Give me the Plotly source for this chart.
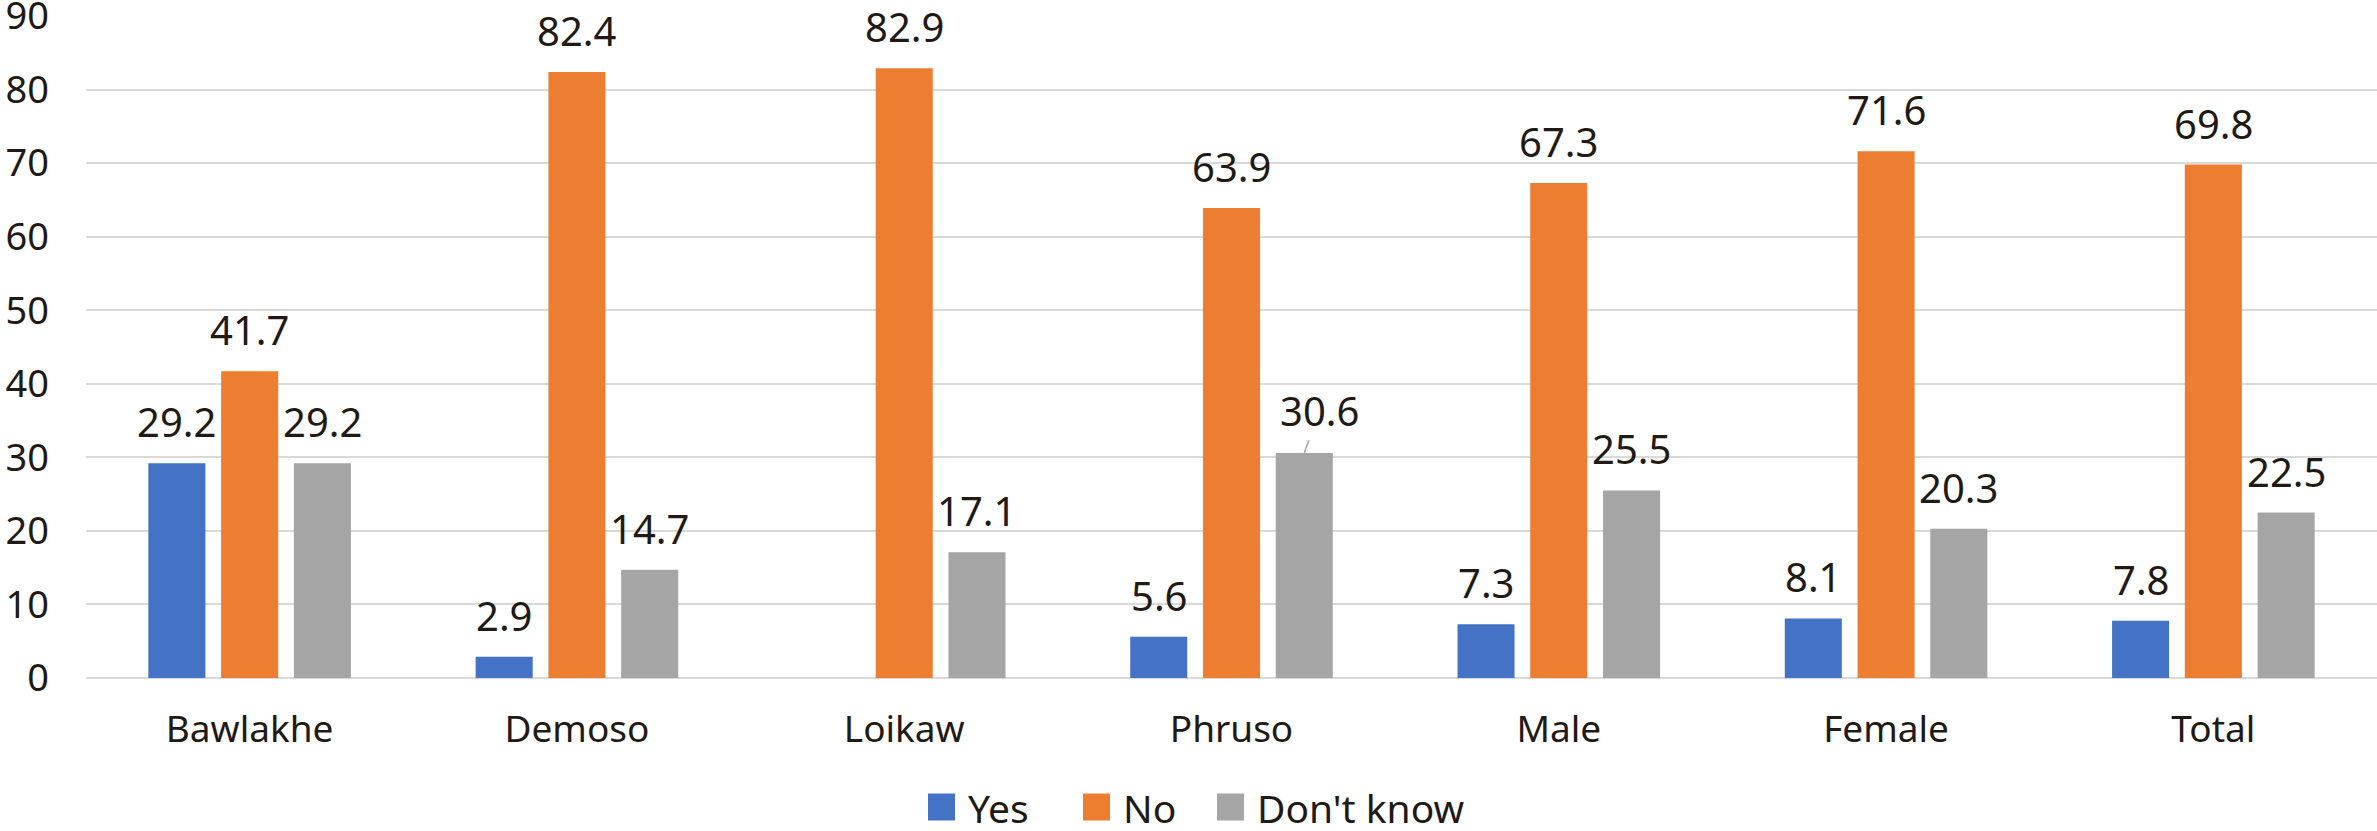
import plotly.graph_objects as go

# Survey responses (%) by township, sex and overall
categories = ["Bawlakhe", "Demoso", "Loikaw", "Phruso", "Male", "Female", "Total"]
yes_vals = [29.2, 2.9, None, 5.6, 7.3, 8.1, 7.8]
no_vals = [41.7, 82.4, 82.9, 63.9, 67.3, 71.6, 69.8]
dont_know_vals = [29.2, 14.7, 17.1, 30.6, 25.5, 20.3, 22.5]
y_ticks = [0, 10, 20, 30, 40, 50, 60, 70, 80, 90]

series = [
    ("Yes", yes_vals, "#4472C4"),
    ("No", no_vals, "#ED7D31"),
    ("Don't know", dont_know_vals, "#A5A5A5"),
]

TEXT = "#211A14"
FONT = "Noto Sans"
BARGAP = 0.333
BARGROUPGAP = 0.216

W, H = 2377, 831
ML, MR, MT, MB = 86, 0, 16, 153
PW, PH = W - ML - MR, H - MT - MB


def px_to_paper(px, py):
    """Convert page pixels to paper coordinates of the plot area."""
    return (px - ML) / PW, (H - MB - py) / PH


xs = list(range(len(categories)))
fig = go.Figure()
for name, vals, color in series:
    fig.add_trace(go.Bar(
        x=xs, y=vals, name=name, showlegend=False,
        marker=dict(color=color, line=dict(width=0)),
    ))

# value labels above each bar, placed at the centre of each bar slot
slot = (1 - BARGAP) / len(series)
annotations = []
for k, (name, vals, color) in enumerate(series):
    offset = (k - (len(series) - 1) / 2) * slot
    for i, v in enumerate(vals):
        if v is None:
            continue
        xpos = i + offset
        if name == "Don't know" and categories[i] == "Phruso":
            annotations.append(dict(
                x=xpos, y=v, xref="x", yref="y", text=f"{v:.1f}",
                showarrow=True, arrowhead=0, arrowwidth=1.5, arrowcolor="#A5A5A5",
                ax=15, ay=-42, standoff=0,
                font=dict(family=FONT, size=40, color=TEXT),
            ))
        else:
            annotations.append(dict(
                x=xpos, y=v, xref="x", yref="y", text=f"{v:.1f}",
                showarrow=False, yanchor="bottom", xanchor="center", yshift=12,
                font=dict(family=FONT, size=40, color=TEXT),
            ))

# legend row below the axis: coloured square followed by its label
shapes = []
legend_left = [928, 1083, 1217]
SQ = 27
LEG_CY = 807
for (name, vals, color), left in zip(series, legend_left):
    x0, y0 = px_to_paper(left, LEG_CY + SQ / 2)
    x1, y1 = px_to_paper(left + SQ, LEG_CY - SQ / 2)
    shapes.append(dict(type="rect", xref="paper", yref="paper",
                       x0=x0, y0=y0, x1=x1, y1=y1,
                       fillcolor=color, line=dict(width=0)))
    tx, ty = px_to_paper(left + SQ + 11, LEG_CY)
    annotations.append(dict(
        x=tx, y=ty, xref="paper", yref="paper", text=name,
        showarrow=False, xanchor="left", yanchor="middle",
        font=dict(family=FONT, size=39, color=TEXT),
    ))

fig.update_layout(
    width=W, height=H,
    margin=dict(l=ML, r=MR, t=MT, b=MB),
    paper_bgcolor="white", plot_bgcolor="white",
    barmode="group", bargap=BARGAP, bargroupgap=BARGROUPGAP,
    font=dict(family=FONT, color=TEXT),
    annotations=annotations,
    shapes=shapes,
    showlegend=False,
)
fig.update_xaxes(
    range=[-0.5, len(categories) - 0.5],
    tickvals=xs, ticktext=categories,
    tickfont=dict(family=FONT, size=37, color=TEXT),
    showgrid=False, showline=False, ticks="", ticklabelstandoff=26,
    automargin=False,
)
fig.update_yaxes(
    range=[0, 90], tickvals=y_ticks,
    tickfont=dict(family=FONT, size=38, color=TEXT),
    showgrid=True, gridcolor="#D9D9D9", gridwidth=2,
    zeroline=True, zerolinecolor="#D9D9D9", zerolinewidth=2,
    showline=False, ticks="", ticklabelstandoff=36,
    ticklabeloverflow="allow", automargin=False,
)

fig.write_html("out.html")
